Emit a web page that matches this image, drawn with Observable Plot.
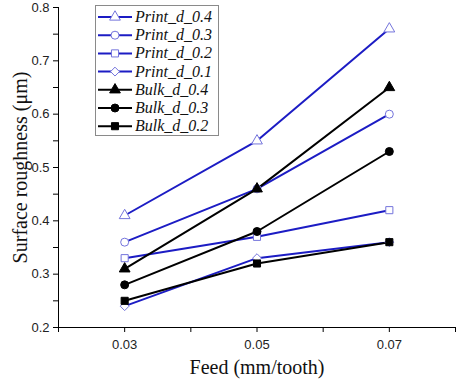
<!DOCTYPE html>
<html>
<head>
<meta charset="utf-8">
<script src="https://cdn.jsdelivr.net/npm/d3@7"></script>
<script src="https://cdn.jsdelivr.net/npm/@observablehq/plot@0.6"></script>
<style>
  html, body { margin: 0; padding: 0; background: #fff; }
  #chart { position: relative; width: 457px; height: 388px; }
</style>
</head>
<body>
<div id="chart"></div>
<script>
const feeds = [0.03, 0.05, 0.07];
const seriesNames = ["Print_d_0.4", "Print_d_0.3", "Print_d_0.2", "Print_d_0.1", "Bulk_d_0.4", "Bulk_d_0.3", "Bulk_d_0.2"];
const print_d_04 = [0.41, 0.55, 0.76];
const print_d_03 = [0.36, 0.46, 0.60];
const print_d_02 = [0.33, 0.37, 0.42];
const print_d_01 = [0.24, 0.33, 0.36];
const bulk_d_04 = [0.31, 0.46, 0.65];
const bulk_d_03 = [0.28, 0.38, 0.53];
const bulk_d_02 = [0.25, 0.32, 0.36];
const xTickLabels = [0.03, 0.05, 0.07];
const yTickLabels = [0.2, 0.3, 0.4, 0.5, 0.6, 0.7, 0.8];

const seriesValues = [print_d_04, print_d_03, print_d_02, print_d_01, bulk_d_04, bulk_d_03, bulk_d_02];
const symbols = ["triangle", "circle", "square", "diamond2", "triangle", "circle", "square"];
const BLUE = "#1c1cc4";
const MARK_BLUE = "#7474dc";
const R = 4;

const style = seriesNames.map((n, i) => {
  const isPrint = n.startsWith("Print");
  return {
    name: n,
    line: isPrint ? BLUE : "#000",
    fill: isPrint ? "#fff" : "#000",
    stroke: isPrint ? MARK_BLUE : "#000",
    symbol: symbols[i]
  };
});

const rows = seriesNames.map((n, i) => feeds.map((f, j) => ({series: n, feed: f, value: seriesValues[i][j]})));

const marks = [];
rows.forEach((data, i) => {
  marks.push(Plot.line(data, {x: "feed", y: "value", stroke: style[i].line, strokeWidth: 2}));
});
rows.forEach((data, i) => {
  marks.push(Plot.dot(data, {x: "feed", y: "value", symbol: () => style[i].symbol, r: R,
    fill: style[i].fill, stroke: style[i].stroke, strokeWidth: 1}));
});

const plot = Plot.plot({
  width: 457,
  height: 388,
  marginLeft: 58,
  marginRight: 2,
  marginTop: 7,
  marginBottom: 61,
  style: {background: "#fff", overflow: "visible"},
  symbol: {type: "identity"},
  x: {domain: [0.02, 0.08]},
  y: {domain: [0.2, 0.8]},
  marks: [
    Plot.axisX({ticks: d3.range(0.02, 0.0801, 0.01), tickSize: 5, tickFormat: () => "", label: null, stroke: "#000"}),
    Plot.axisX(xTickLabels, {tickSize: 0, tickPadding: 12, label: null, fontSize: 13, fontFamily: "Liberation Sans, Arial, sans-serif", fill: "#222", tickFormat: d => d.toFixed(2)}),
    Plot.axisY({ticks: d3.range(0.2, 0.8001, 0.05), tickSize: 5, tickFormat: () => "", label: null, stroke: "#000"}),
    Plot.axisY(yTickLabels, {tickSize: 0, tickPadding: 9, label: null, fontSize: 13, fontFamily: "Liberation Sans, Arial, sans-serif", fill: "#222", tickFormat: d => d.toFixed(1)}),
    Plot.ruleX([0.02], {stroke: "#000", strokeWidth: 1}),
    Plot.ruleY([0.2], {stroke: "#000", strokeWidth: 1}),
    ...marks,
    Plot.text(["Feed (mm/tooth)"], {frameAnchor: "bottom", textAnchor: "middle", dy: 46, fontSize: 20, fontFamily: "Liberation Serif, Times New Roman, serif", fill: "#111"}),
    Plot.text(["Surface roughness (μm)"], {frameAnchor: "left", textAnchor: "middle", dx: -38, rotate: -90, fontSize: 20, fontFamily: "Liberation Serif, Times New Roman, serif", fill: "#111"})
  ]
});

document.getElementById("chart").appendChild(plot);

// legend inside the svg
const svg = d3.select(plot);
const lg = svg.append("g").attr("transform", "translate(95,5)");
lg.append("rect").attr("x", 0.5).attr("y", 0.5).attr("width", 123).attr("height", 130)
  .attr("fill", "#fff").attr("stroke", "#8a8a8a").attr("stroke-width", 1);
const symbolMap = {triangle: d3.symbolTriangle, circle: d3.symbolCircle, square: d3.symbolSquare, diamond2: d3.symbolDiamond2};
style.forEach((s, i) => {
  const y = 12 + i * 18.2;
  const g = lg.append("g").attr("transform", `translate(0,${y})`);
  g.append("line").attr("x1", 3).attr("x2", 37).attr("y1", 0).attr("y2", 0)
    .attr("stroke", s.line).attr("stroke-width", 2);
  g.append("path").attr("transform", "translate(20,0)")
    .attr("d", d3.symbol(symbolMap[s.symbol], R * R * Math.PI)())
    .attr("fill", s.fill).attr("stroke", s.stroke).attr("stroke-width", 1);
  g.append("text").attr("x", 40).attr("y", 5).attr("text-anchor", "start").text(s.name)
    .attr("font-family", "Liberation Serif, Times New Roman, serif").attr("font-style", "italic")
    .attr("font-size", 16).attr("fill", "#111");
});
</script>
</body>
</html>
